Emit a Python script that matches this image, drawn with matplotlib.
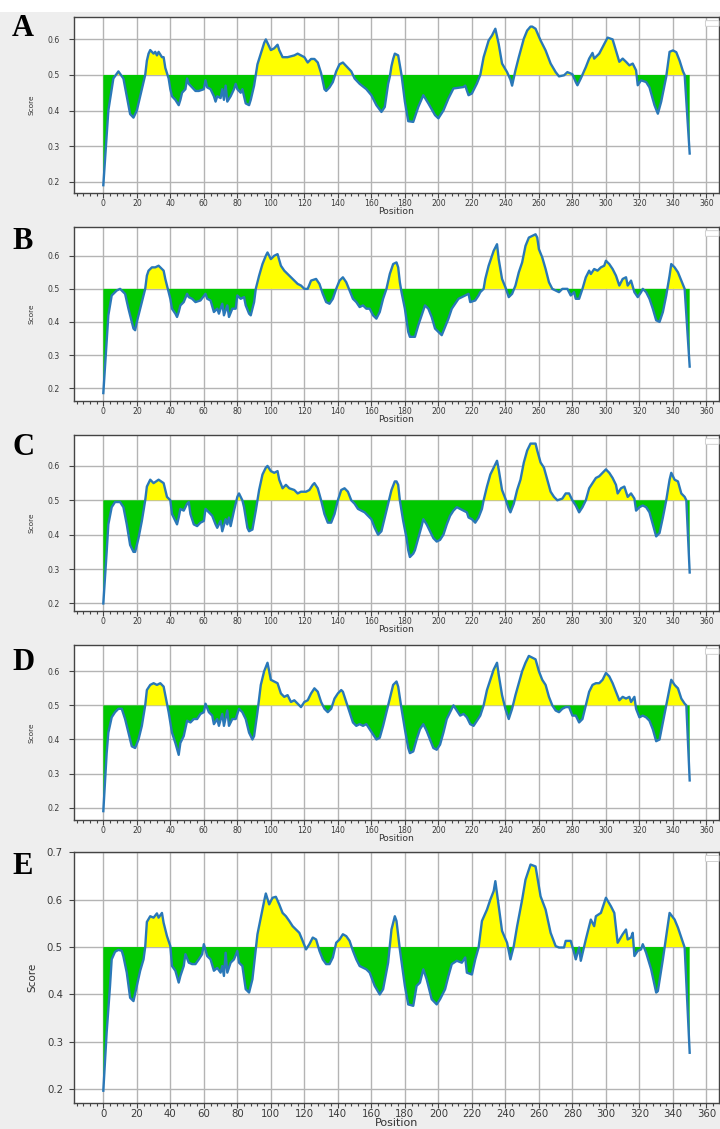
import matplotlib
matplotlib.use("Agg")
import matplotlib.pyplot as plt
import numpy as np
from matplotlib.ticker import MultipleLocator, FormatStrFormatter
from matplotlib.patches import FancyBboxPatch, Rectangle

# ---------------- data ----------------
pos_a = [0, 3, 6, 9, 12, 14, 16, 18, 20, 22, 24, 25, 26, 27, 28, 30, 31, 32, 33, 35,
         36, 37, 39, 40, 41, 43, 45, 46, 47, 49, 50, 51, 53, 55, 57, 60, 61, 62, 64, 66,
         67, 68, 70, 71, 72, 73, 74, 76, 78, 79, 80, 82, 83, 84, 85, 87, 88, 90, 91, 92,
         94, 96, 97, 99, 100, 102, 104, 105, 107, 110, 114, 116, 118, 120, 122, 124, 126, 128, 130, 132,
         133, 135, 137, 139, 141, 143, 145, 148, 150, 153, 157, 160, 163, 166, 168, 170, 171, 172, 173, 174,
         176, 178, 180, 182, 185, 188, 191, 194, 198, 200, 203, 206, 209, 212, 215, 216, 218, 220, 223, 225,
         227, 230, 232, 234, 236, 238, 241, 243, 244, 246, 248, 251, 253, 255, 256, 258, 261, 264, 267, 270,
         272, 275, 277, 280, 282, 283, 285, 288, 290, 292, 293, 296, 299, 301, 304, 306, 308, 310, 312, 314,
         316, 318, 319, 321, 324, 326, 329, 331, 333, 336, 338, 340, 342, 344, 346, 347, 350]
score_a = [0.19, 0.40, 0.49, 0.51, 0.49, 0.44, 0.39, 0.38, 0.40, 0.44, 0.48, 0.50, 0.54, 0.56, 0.57, 0.56, 0.565, 0.555, 0.565, 0.55,
           0.55, 0.52, 0.49, 0.46, 0.44, 0.43, 0.415, 0.43, 0.45, 0.46, 0.49, 0.475, 0.465, 0.455, 0.455, 0.46, 0.485, 0.465, 0.46, 0.44,
           0.425, 0.44, 0.435, 0.46, 0.43, 0.47, 0.425, 0.44, 0.46, 0.475, 0.46, 0.45, 0.46, 0.44, 0.42, 0.415, 0.43, 0.47, 0.50, 0.53,
           0.56, 0.59, 0.60, 0.58, 0.57, 0.575, 0.585, 0.57, 0.55, 0.55, 0.555, 0.56, 0.555, 0.55, 0.535, 0.545, 0.545, 0.535, 0.505, 0.46,
           0.455, 0.465, 0.48, 0.51, 0.53, 0.535, 0.525, 0.51, 0.49, 0.475, 0.46, 0.443, 0.415, 0.396, 0.41, 0.475, 0.495, 0.525, 0.545, 0.56,
           0.555, 0.50, 0.425, 0.37, 0.368, 0.41, 0.443, 0.42, 0.387, 0.378, 0.40, 0.434, 0.462, 0.464, 0.466, 0.47, 0.443, 0.448, 0.476, 0.50,
           0.55, 0.597, 0.611, 0.63, 0.587, 0.532, 0.508, 0.487, 0.47, 0.513, 0.55, 0.602, 0.625, 0.636, 0.636, 0.63, 0.597, 0.569, 0.532, 0.508,
           0.496, 0.499, 0.508, 0.502, 0.48, 0.471, 0.49, 0.522, 0.546, 0.562, 0.546, 0.56, 0.587, 0.605, 0.60, 0.569, 0.537, 0.546, 0.537, 0.527,
           0.532, 0.513, 0.471, 0.485, 0.48, 0.465, 0.415, 0.391, 0.425, 0.495, 0.565, 0.569, 0.564, 0.54, 0.51, 0.50, 0.279]

pos_b = [0, 3, 5, 8, 10, 13, 15, 18, 19, 20, 22, 24, 25, 26, 27, 29, 31, 33, 35, 36,
         37, 38, 40, 41, 43, 44, 45, 46, 48, 50, 51, 53, 55, 58, 61, 62, 64, 66, 68, 69,
         71, 72, 74, 75, 77, 79, 80, 82, 84, 85, 87, 88, 90, 91, 93, 95, 97, 98, 100, 102,
         104, 106, 108, 110, 113, 116, 118, 120, 122, 124, 127, 129, 131, 133, 135, 137, 139, 141, 143, 145,
         147, 149, 151, 153, 155, 157, 159, 161, 163, 165, 167, 169, 171, 173, 175, 176, 177, 178, 180, 182,
         183, 186, 188, 190, 192, 194, 196, 198, 200, 202, 204, 206, 208, 210, 212, 214, 216, 218, 219, 222,
         224, 225, 227, 228, 230, 232, 233, 235, 236, 238, 240, 241, 242, 244, 246, 248, 250, 252, 254, 256,
         258, 259, 260, 262, 264, 266, 268, 270, 272, 274, 277, 279, 281, 282, 284, 286, 288, 290, 291, 293,
         295, 297, 299, 300, 302, 304, 306, 308, 310, 312, 313, 315, 317, 319, 321, 322, 324, 326, 328, 330,
         332, 334, 336, 338, 339, 341, 343, 345, 347, 350]
score_b = [0.185, 0.42, 0.48, 0.495, 0.50, 0.485, 0.44, 0.38, 0.375, 0.40, 0.44, 0.48, 0.50, 0.54, 0.555, 0.565, 0.565, 0.57, 0.56, 0.555,
           0.53, 0.51, 0.47, 0.44, 0.425, 0.415, 0.43, 0.45, 0.46, 0.485, 0.475, 0.47, 0.46, 0.465, 0.485, 0.47, 0.465, 0.43, 0.44, 0.425,
           0.455, 0.42, 0.45, 0.415, 0.44, 0.44, 0.48, 0.47, 0.475, 0.45, 0.425, 0.42, 0.46, 0.50, 0.54, 0.575, 0.60, 0.61, 0.59, 0.60,
           0.605, 0.57, 0.555, 0.545, 0.53, 0.515, 0.51, 0.50, 0.50, 0.525, 0.53, 0.515, 0.485, 0.46, 0.455, 0.47, 0.50, 0.525, 0.535, 0.52,
           0.495, 0.47, 0.46, 0.445, 0.45, 0.44, 0.44, 0.42, 0.41, 0.43, 0.47, 0.50, 0.545, 0.575, 0.58, 0.565, 0.52, 0.49, 0.44, 0.37,
           0.355, 0.355, 0.39, 0.42, 0.45, 0.44, 0.415, 0.38, 0.37, 0.36, 0.385, 0.41, 0.44, 0.455, 0.47, 0.475, 0.48, 0.485, 0.46, 0.465,
           0.48, 0.49, 0.50, 0.53, 0.57, 0.60, 0.615, 0.635, 0.59, 0.53, 0.505, 0.49, 0.475, 0.485, 0.51, 0.55, 0.58, 0.63, 0.655, 0.66,
           0.665, 0.655, 0.62, 0.595, 0.56, 0.52, 0.50, 0.495, 0.49, 0.50, 0.50, 0.48, 0.49, 0.47, 0.47, 0.50, 0.535, 0.555, 0.545, 0.56,
           0.555, 0.565, 0.57, 0.585, 0.575, 0.56, 0.54, 0.51, 0.53, 0.535, 0.51, 0.525, 0.49, 0.475, 0.49, 0.50, 0.49, 0.47, 0.44, 0.405,
           0.40, 0.43, 0.48, 0.54, 0.575, 0.565, 0.55, 0.525, 0.50, 0.265]

pos_c = [0, 2, 3, 5, 7, 10, 12, 14, 16, 18, 19, 21, 23, 25, 26, 28, 30, 33, 36, 37,
         38, 40, 41, 43, 44, 45, 46, 48, 50, 51, 52, 54, 56, 58, 60, 61, 63, 65, 67, 68,
         70, 71, 73, 74, 75, 76, 78, 80, 81, 83, 84, 86, 87, 89, 91, 93, 95, 97, 98, 100,
         102, 104, 105, 107, 109, 111, 114, 116, 118, 121, 123, 125, 126, 128, 130, 132, 134, 136, 138, 140,
         142, 144, 146, 148, 150, 152, 154, 156, 158, 160, 162, 164, 166, 168, 170, 172, 174, 175, 176, 177,
         179, 181, 182, 183, 185, 186, 188, 190, 191, 193, 195, 197, 199, 201, 203, 205, 207, 209, 211, 213,
         215, 217, 218, 220, 222, 224, 226, 227, 229, 231, 233, 235, 236, 238, 240, 242, 243, 245, 247, 249,
         251, 253, 255, 258, 259, 261, 263, 265, 267, 269, 271, 274, 276, 278, 280, 282, 284, 286, 288, 290,
         292, 294, 296, 298, 300, 302, 304, 306, 307, 309, 311, 313, 315, 317, 318, 320, 322, 324, 326, 328,
         330, 332, 334, 336, 338, 339, 341, 343, 345, 347, 348, 350]
score_c = [0.20, 0.35, 0.43, 0.48, 0.495, 0.495, 0.48, 0.43, 0.37, 0.35, 0.35, 0.39, 0.44, 0.50, 0.54, 0.56, 0.55, 0.56, 0.55, 0.53,
           0.51, 0.50, 0.46, 0.44, 0.43, 0.45, 0.475, 0.47, 0.49, 0.495, 0.46, 0.43, 0.425, 0.435, 0.44, 0.475, 0.465, 0.455, 0.43, 0.42,
           0.44, 0.41, 0.445, 0.43, 0.45, 0.425, 0.47, 0.51, 0.52, 0.50, 0.48, 0.42, 0.41, 0.415, 0.47, 0.53, 0.575, 0.595, 0.60, 0.585,
           0.58, 0.585, 0.56, 0.535, 0.545, 0.535, 0.53, 0.52, 0.525, 0.525, 0.53, 0.545, 0.55, 0.535, 0.50, 0.46, 0.435, 0.435, 0.46, 0.50,
           0.53, 0.535, 0.525, 0.50, 0.49, 0.475, 0.47, 0.465, 0.455, 0.445, 0.42, 0.40, 0.41, 0.45, 0.49, 0.53, 0.555, 0.555, 0.545, 0.50,
           0.44, 0.39, 0.355, 0.335, 0.345, 0.355, 0.39, 0.425, 0.445, 0.43, 0.41, 0.39, 0.38, 0.385, 0.40, 0.43, 0.455, 0.47, 0.48, 0.475,
           0.47, 0.465, 0.45, 0.445, 0.435, 0.45, 0.475, 0.50, 0.54, 0.575, 0.595, 0.615, 0.59, 0.53, 0.505, 0.475, 0.465, 0.49, 0.53, 0.56,
           0.61, 0.645, 0.665, 0.665, 0.645, 0.61, 0.595, 0.56, 0.525, 0.51, 0.50, 0.505, 0.52, 0.52, 0.50, 0.485, 0.465, 0.48, 0.50, 0.535,
           0.55, 0.565, 0.57, 0.58, 0.59, 0.58, 0.565, 0.545, 0.52, 0.535, 0.54, 0.51, 0.52, 0.505, 0.47, 0.48, 0.485, 0.48, 0.465, 0.43,
           0.395, 0.405, 0.45, 0.50, 0.56, 0.58, 0.56, 0.555, 0.52, 0.51, 0.50, 0.29]

pos_d = [0, 2, 3, 5, 7, 9, 11, 13, 15, 17, 19, 21, 23, 25, 26, 28, 30, 32, 34, 36,
         37, 39, 41, 43, 45, 46, 48, 50, 52, 54, 56, 58, 60, 61, 63, 65, 66, 68, 69, 71,
         72, 74, 75, 77, 79, 81, 83, 85, 87, 89, 90, 92, 94, 96, 98, 99, 100, 102, 104, 106,
         108, 110, 112, 114, 116, 118, 120, 122, 124, 126, 128, 130, 132, 134, 136, 138, 140, 142, 143, 145,
         147, 149, 151, 153, 155, 157, 159, 161, 163, 165, 167, 169, 171, 173, 175, 176, 178, 180, 182, 183,
         185, 187, 189, 191, 193, 195, 197, 199, 201, 203, 205, 207, 209, 211, 213, 215, 217, 219, 221, 223,
         225, 227, 229, 231, 233, 235, 236, 238, 240, 242, 244, 246, 248, 250, 252, 254, 256, 258, 260, 262,
         264, 266, 268, 270, 272, 274, 276, 278, 280, 282, 284, 286, 288, 290, 292, 294, 296, 298, 300, 302,
         304, 306, 308, 310, 312, 314, 315, 317, 318, 320, 322, 324, 326, 328, 330, 332, 334, 336, 338, 339,
         341, 343, 345, 347, 348, 350]
score_d = [0.19, 0.36, 0.42, 0.465, 0.48, 0.49, 0.49, 0.46, 0.42, 0.38, 0.375, 0.40, 0.44, 0.50, 0.545, 0.56, 0.565, 0.56, 0.565, 0.555,
           0.53, 0.48, 0.42, 0.39, 0.355, 0.39, 0.41, 0.455, 0.45, 0.46, 0.46, 0.475, 0.48, 0.505, 0.48, 0.47, 0.445, 0.46, 0.44, 0.475,
           0.44, 0.485, 0.44, 0.46, 0.46, 0.49, 0.48, 0.46, 0.42, 0.40, 0.41, 0.48, 0.56, 0.60, 0.625, 0.60, 0.575, 0.57, 0.565, 0.535,
           0.525, 0.53, 0.51, 0.515, 0.505, 0.495, 0.51, 0.515, 0.535, 0.55, 0.54, 0.51, 0.49, 0.48, 0.49, 0.52, 0.535, 0.545, 0.54, 0.51,
           0.48, 0.45, 0.44, 0.445, 0.44, 0.445, 0.43, 0.415, 0.40, 0.405, 0.44, 0.48, 0.52, 0.56, 0.57, 0.555, 0.49, 0.43, 0.375, 0.36,
           0.365, 0.40, 0.43, 0.445, 0.425, 0.40, 0.375, 0.37, 0.385, 0.42, 0.46, 0.48, 0.50, 0.485, 0.47, 0.475, 0.465, 0.445, 0.44, 0.455,
           0.47, 0.50, 0.545, 0.575, 0.605, 0.625, 0.59, 0.53, 0.49, 0.46, 0.49, 0.53, 0.565, 0.60, 0.625, 0.645, 0.64, 0.635, 0.60, 0.575,
           0.56, 0.525, 0.50, 0.485, 0.48, 0.49, 0.495, 0.495, 0.47, 0.47, 0.45, 0.46, 0.50, 0.54, 0.56, 0.565, 0.565, 0.575, 0.595, 0.585,
           0.565, 0.54, 0.515, 0.525, 0.52, 0.525, 0.51, 0.525, 0.49, 0.465, 0.47, 0.465, 0.455, 0.43, 0.395, 0.40, 0.45, 0.50, 0.55, 0.575,
           0.56, 0.55, 0.52, 0.505, 0.50, 0.28]

pos_e = [0, 2, 4, 5, 7, 9, 11, 12, 14, 16, 18, 20, 22, 24, 25, 26, 28, 30, 32, 33,
         35, 36, 38, 40, 41, 43, 45, 46, 48, 49, 51, 53, 55, 57, 59, 60, 62, 64, 66, 68,
         70, 71, 72, 73, 74, 76, 78, 80, 81, 83, 85, 87, 89, 91, 92, 94, 96, 97, 99, 101,
         103, 105, 107, 109, 111, 113, 115, 117, 119, 121, 123, 125, 127, 129, 131, 133, 135, 137, 139, 141,
         143, 145, 147, 149, 151, 153, 157, 159, 162, 165, 167, 170, 172, 174, 175, 177, 180, 182, 185, 187,
         189, 191, 193, 196, 199, 201, 204, 206, 208, 211, 214, 216, 217, 220, 222, 224, 226, 229, 231, 233,
         234, 236, 238, 241, 243, 245, 247, 250, 252, 255, 258, 261, 264, 267, 270, 272, 275, 276, 279, 281,
         282, 284, 285, 288, 291, 293, 294, 297, 300, 303, 305, 307, 310, 312, 313, 315, 316, 317, 319, 321,
         322, 324, 327, 330, 331, 334, 338, 341, 343, 346, 347, 350]
score_e = [0.197, 0.32, 0.418, 0.474, 0.49, 0.494, 0.492, 0.48, 0.446, 0.393, 0.386, 0.418, 0.45, 0.474, 0.50, 0.553, 0.565, 0.562, 0.571, 0.562,
           0.572, 0.551, 0.523, 0.502, 0.46, 0.45, 0.425, 0.439, 0.46, 0.485, 0.467, 0.464, 0.464, 0.474, 0.485, 0.506, 0.481, 0.474, 0.45, 0.456,
           0.446, 0.46, 0.439, 0.488, 0.446, 0.467, 0.474, 0.492, 0.467, 0.46, 0.411, 0.404, 0.432, 0.495, 0.527, 0.562, 0.597, 0.613, 0.59, 0.604,
           0.606, 0.59, 0.572, 0.565, 0.555, 0.544, 0.537, 0.53, 0.513, 0.495, 0.506, 0.52, 0.516, 0.492, 0.474, 0.464, 0.464, 0.478, 0.509, 0.516,
           0.527, 0.523, 0.513, 0.492, 0.474, 0.46, 0.453, 0.446, 0.418, 0.40, 0.411, 0.467, 0.537, 0.565, 0.555, 0.495, 0.418, 0.379, 0.376, 0.418,
           0.425, 0.453, 0.432, 0.39, 0.379, 0.39, 0.411, 0.439, 0.464, 0.471, 0.467, 0.478, 0.446, 0.442, 0.474, 0.499, 0.555, 0.579, 0.60, 0.618,
           0.639, 0.586, 0.534, 0.509, 0.474, 0.502, 0.544, 0.60, 0.642, 0.674, 0.67, 0.607, 0.579, 0.53, 0.502, 0.499, 0.499, 0.513, 0.513, 0.488,
           0.474, 0.499, 0.471, 0.516, 0.558, 0.544, 0.565, 0.572, 0.604, 0.586, 0.572, 0.509, 0.527, 0.537, 0.516, 0.52, 0.53, 0.481, 0.492, 0.495,
           0.506, 0.488, 0.453, 0.404, 0.407, 0.474, 0.572, 0.558, 0.541, 0.509, 0.499, 0.277]

panel_labels = ["A", "B", "C", "D", "E"]
panel_pos = [pos_a, pos_b, pos_c, pos_d, pos_e]
panel_score = [score_a, score_b, score_c, score_d, score_e]
panel_ylim = [(0.168, 0.663), (0.161, 0.687), (0.178, 0.690), (0.164, 0.677), (0.171, 0.7005)]
threshold = 0.5
x_label = "Position"
y_label = "Score"

# ---------------- layout (pixels of a 720x1129 canvas) ----------------
W, H = 720, 1129
axes_px = [(17, 193), (227, 401), (435, 611), (645, 820), (852, 1103)]   # top, bottom
letter_base = [36, 249, 455, 670, 874]
left_px, right_px = 74, 719

fig = plt.figure(figsize=(W / 100, H / 100), dpi=100, facecolor="#eeeeee")
# white strip at the very top of the composite
fig.patches.append(Rectangle((0, 1 - 12 / H), 1, 12 / H, transform=fig.transFigure,
                             fc="white", ec="none", zorder=0))

for i in range(5):
    top, bot = axes_px[i]
    rect = [left_px / W, 1 - bot / H, (right_px - left_px) / W, (bot - top) / H]
    ax = fig.add_axes(rect)
    ax.set_facecolor("white")
    big = (i == 4)
    fs_tick = 7.3 if big else 5.6
    fs_lab = 8.0 if big else 6.6
    fs_y = 7.5 if big else 5.3

    x = np.array(panel_pos[i], dtype=float)
    y = np.array(panel_score[i], dtype=float)
    ax.fill_between(x, y, threshold, where=y >= threshold, interpolate=True,
                    color="#ffff00", lw=0, zorder=2)
    ax.fill_between(x, y, threshold, where=y <= threshold, interpolate=True,
                    color="#00c800", lw=0, zorder=2)
    ax.plot(x, y, color="#2a78b8", lw=1.7, zorder=3, solid_joinstyle="round")

    ax.set_xlim(-17.5, 367.5)
    ax.set_ylim(*panel_ylim[i])
    ax.xaxis.set_major_locator(MultipleLocator(20))
    ax.xaxis.set_minor_locator(MultipleLocator(4))
    ax.yaxis.set_major_locator(MultipleLocator(0.1))
    ax.yaxis.set_major_formatter(FormatStrFormatter("%.1f"))
    ax.set_axisbelow(True)
    ax.grid(True, which="major", color="#b4b4b4", lw=1.0)

    ax.tick_params(axis="both", which="major", length=3.5, width=0.8, color="#444444",
                   labelsize=fs_tick, labelcolor="#3a3a3a")
    ax.tick_params(axis="x", which="major", pad=0.5)
    ax.tick_params(axis="y", which="major", pad=4.5 if big else 7)
    ax.tick_params(axis="x", which="minor", length=1.8, width=0.8, color="#444444")
    for sp in ax.spines.values():
        sp.set_color("#444444")
        sp.set_linewidth(1.0)

    ax.set_xlabel(x_label, fontsize=fs_lab, color="#333333")
    off_px = 15 if big else 14
    ax.xaxis.set_label_coords(0.5, -off_px / (bot - top))
    ax.set_ylabel(y_label, fontsize=fs_y, color="#333333")
    ax.yaxis.set_label_coords((32 - left_px) / (right_px - left_px), 0.5)
    ax.yaxis.label.set_va("center")

    # empty legend frame at upper right
    bw = 11 / (right_px - left_px)
    bh = 5 / (bot - top)
    ax.add_patch(FancyBboxPatch((0.981, 1 - 9 / (bot - top)), bw, bh,
                                boxstyle="round,pad=0.002", transform=ax.transAxes,
                                fc="white", ec="#d0d0d0", lw=0.7, zorder=5, clip_on=False))

    fig.text(12 / W, 1 - letter_base[i] / H, panel_labels[i], fontfamily="Liberation Serif",
             fontweight="bold", fontsize=22, ha="left", va="baseline", color="black")

fig.savefig("out.png", dpi=100, facecolor=fig.get_facecolor())
